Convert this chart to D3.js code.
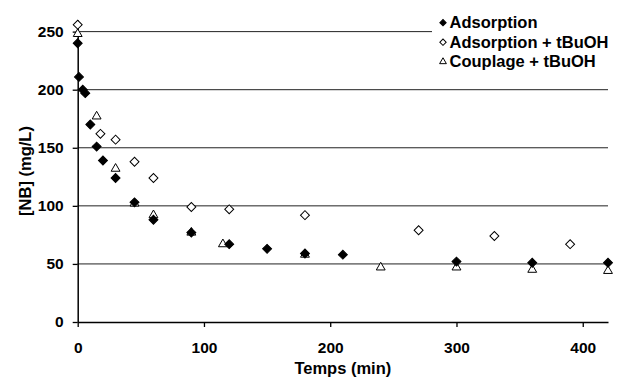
<!DOCTYPE html>
<html>
<head>
<meta charset="UTF-8">
<title>NB adsorption</title>
<script src="https://cdn.jsdelivr.net/npm/d3@7"></script>
<style>
  body { margin: 0; background: #fff; }
  svg text { font-family: "Liberation Sans", Arial, sans-serif; font-weight: bold; fill: #000; }
</style>
</head>
<body>
<div id="chart"></div>
<script>
// data
var xTicks = [0, 100, 200, 300, 400];
var yTicks = [0, 50, 100, 150, 200, 250];

var adsT = [0, 1, 4, 6, 10, 15, 20, 30, 45, 60, 90, 120, 150, 180, 210, 300, 360, 420];
var adsV = [240, 211, 200, 197, 170, 151, 139, 124, 103, 88, 77, 67, 63, 59, 58, 52, 51, 51];

var adsTbT = [0, 18, 30, 45, 60, 90, 120, 180, 270, 330, 390];
var adsTbV = [256, 162, 157, 138, 124, 99, 97, 92, 79, 74, 67];

var coupT = [0, 15, 30, 45, 60, 90, 115, 180, 240, 300, 360, 420];
var coupV = [248, 177, 132, 102, 92, 77, 67, 58, 47, 47, 45, 44];

var seriesNames = ["Adsorption", "Adsorption + tBuOH", "Couplage + tBuOH"];

var width = 625, height = 379;
var x = d3.scaleLinear().domain([0, 420]).range([77.7, 608]);
var y = d3.scaleLinear().domain([0, 260]).range([322, 20]);

var svg = d3.select("#chart").append("svg")
    .attr("width", width)
    .attr("height", height);

// gridlines
svg.append("g")
    .selectAll("line")
    .data(yTicks.filter(function (d) { return d > 0; }))
    .enter().append("line")
    .attr("x1", x(0)).attr("x2", x(420))
    .attr("y1", function (d) { return y(d); })
    .attr("y2", function (d) { return y(d); })
    .attr("stroke", "#222")
    .attr("stroke-width", 1);

// axes
var yAxis = svg.append("g")
    .attr("transform", "translate(" + x(0) + ",0)")
    .call(d3.axisLeft(y).tickValues(yTicks).tickSize(5).tickSizeOuter(0).tickPadding(9));
var xAxis = svg.append("g")
    .attr("transform", "translate(0," + y(0) + ")")
    .call(d3.axisBottom(x).tickValues(xTicks).tickSize(5).tickSizeOuter(0).tickPadding(15));

[xAxis, yAxis].forEach(function (a) {
    a.select(".domain").attr("stroke", "#000").attr("stroke-width", 1.5);
    a.selectAll(".tick line").attr("stroke", "#000").attr("stroke-width", 1.3);
    a.selectAll(".tick text").style("font-size", "15.5px").attr("fill", "#000");
});

svg.append("text")
    .attr("x", (x(0) + x(420)) / 2)
    .attr("y", 374)
    .attr("text-anchor", "middle")
    .style("font-size", "16.5px")
    .text("Temps (min)");

svg.append("text")
    .attr("transform", "translate(31,171) rotate(-90)")
    .attr("text-anchor", "middle")
    .style("font-size", "16.5px")
    .text("[NB] (mg/L)");

// markers
var diamond = d3.symbol().type(d3.symbolSquare).size(40);
var triangle = d3.symbol().type(d3.symbolTriangle).size(34);

function plot(ts, vs, path, fill) {
    svg.append("g")
        .selectAll("path")
        .data(ts.map(function (t, i) { return [t, vs[i]]; }))
        .enter().append("path")
        .attr("d", path)
        .attr("transform", function (d) {
            var r = path === diamond ? " rotate(45)" : "";
            return "translate(" + x(d[0]) + "," + y(d[1]) + ")" + r;
        })
        .attr("fill", fill)
        .attr("stroke", "#000")
        .attr("stroke-width", 1);
}

plot(coupT, coupV, triangle, "#fff");
plot(adsTbT, adsTbV, diamond, "#fff");
plot(adsT, adsV, diamond, "#000");

// legend
var legend = svg.append("g");
legend.append("rect")
    .attr("x", 432).attr("y", 12)
    .attr("width", 193).attr("height", 62)
    .attr("fill", "#fff");

var legendY = [22.7, 42.2, 61.7];
var legendSym = [
    {path: d3.symbol().type(d3.symbolSquare).size(20), fill: "#000", rot: " rotate(45)"},
    {path: d3.symbol().type(d3.symbolSquare).size(20), fill: "#fff", rot: " rotate(45)"},
    {path: d3.symbol().type(d3.symbolTriangle).size(20), fill: "#fff", rot: ""}
];
seriesNames.forEach(function (name, i) {
    legend.append("path")
        .attr("d", legendSym[i].path)
        .attr("transform", "translate(443," + legendY[i] + ")" + legendSym[i].rot)
        .attr("fill", legendSym[i].fill)
        .attr("stroke", "#000")
        .attr("stroke-width", 1);
    legend.append("text")
        .attr("x", 449.5)
        .attr("y", legendY[i] + 5.5)
        .style("font-size", "16.5px")
        .text(name);
});
</script>
</body>
</html>
